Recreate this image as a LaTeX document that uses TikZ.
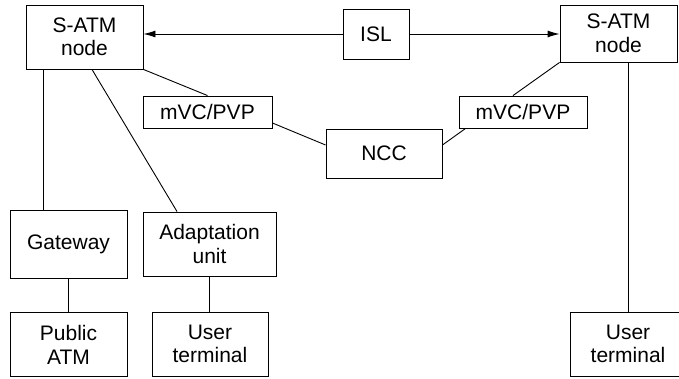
\documentclass[tikz,border=0pt]{standalone}
\usepackage{fontspec}
\setmainfont{Liberation Sans}
\usetikzlibrary{arrows.meta,positioning}

\begin{document}
\begin{tikzpicture}[x=1pt,y=-1pt,line width=0.9pt,>={Latex[length=12pt,width=7pt]},
  font=\fontsize{21}{23.5}\selectfont,
  b/.style={draw,align=center,inner sep=0pt,minimum height=64pt,minimum width=117pt},
  s/.style={draw,align=center,inner sep=0pt,minimum height=32pt,minimum width=129pt}]
  \useasboundingbox (0,0) rectangle (679,379);
  % top row
  \node[b](lsat) at (84.5,37){S-ATM\\node};
  \node[b,minimum width=66pt,minimum height=50pt](isl) at (376,34){ISL};
  \node[b,minimum height=57pt](rsat) at (618.5,33.5){S-ATM\\node};
  % middle row
  \node[s](lmvc) at (207.5,112){mVC/PVP};
  \node[b,minimum width=116pt,minimum height=49pt](ncc) at (384,153.5){NCC};
  \node[s,minimum width=128pt](rmvc) at (523,112){mVC/PVP};
  % access side
  \node[b,minimum height=68pt](gw) at (68.5,244){Gateway};
  \node[b,minimum width=133pt](adapt) at (209.5,244){Adaptation\\unit};
  \node[b,below=34pt of gw](patm){Public\\ATM};
  \node[b,minimum width=116pt](lut) at (210,344){User\\terminal};
  \node[b,minimum width=116pt](rut) at (628,344){User\\terminal};
  \draw[->](isl.west)--(isl.west -| lsat.east);\draw[->](isl.east)--(isl.east -| rsat.west);
  \draw(lsat.south east)--(lmvc.north);
  \draw([yshift=-11pt]lmvc.east)--([yshift=8.5pt]ncc.west);
  \draw([yshift=8.5pt]ncc.east)--([xshift=7pt]rmvc.south west);
  \draw([xshift=-10pt]rmvc.north)--(rsat.south west);
  \draw([xshift=-25.5pt]gw.north)--([xshift=-25.5pt]gw.north |- lsat.south);
  \draw([xshift=7.5pt]lsat.south)--([xshift=-32.5pt]adapt.north);
  \draw(gw.south)--(patm.north);\draw(adapt.south)--(adapt.south |- lut.north);
  \draw(rut.north |- rsat.south)--(rut.north);
\end{tikzpicture}
\end{document}
